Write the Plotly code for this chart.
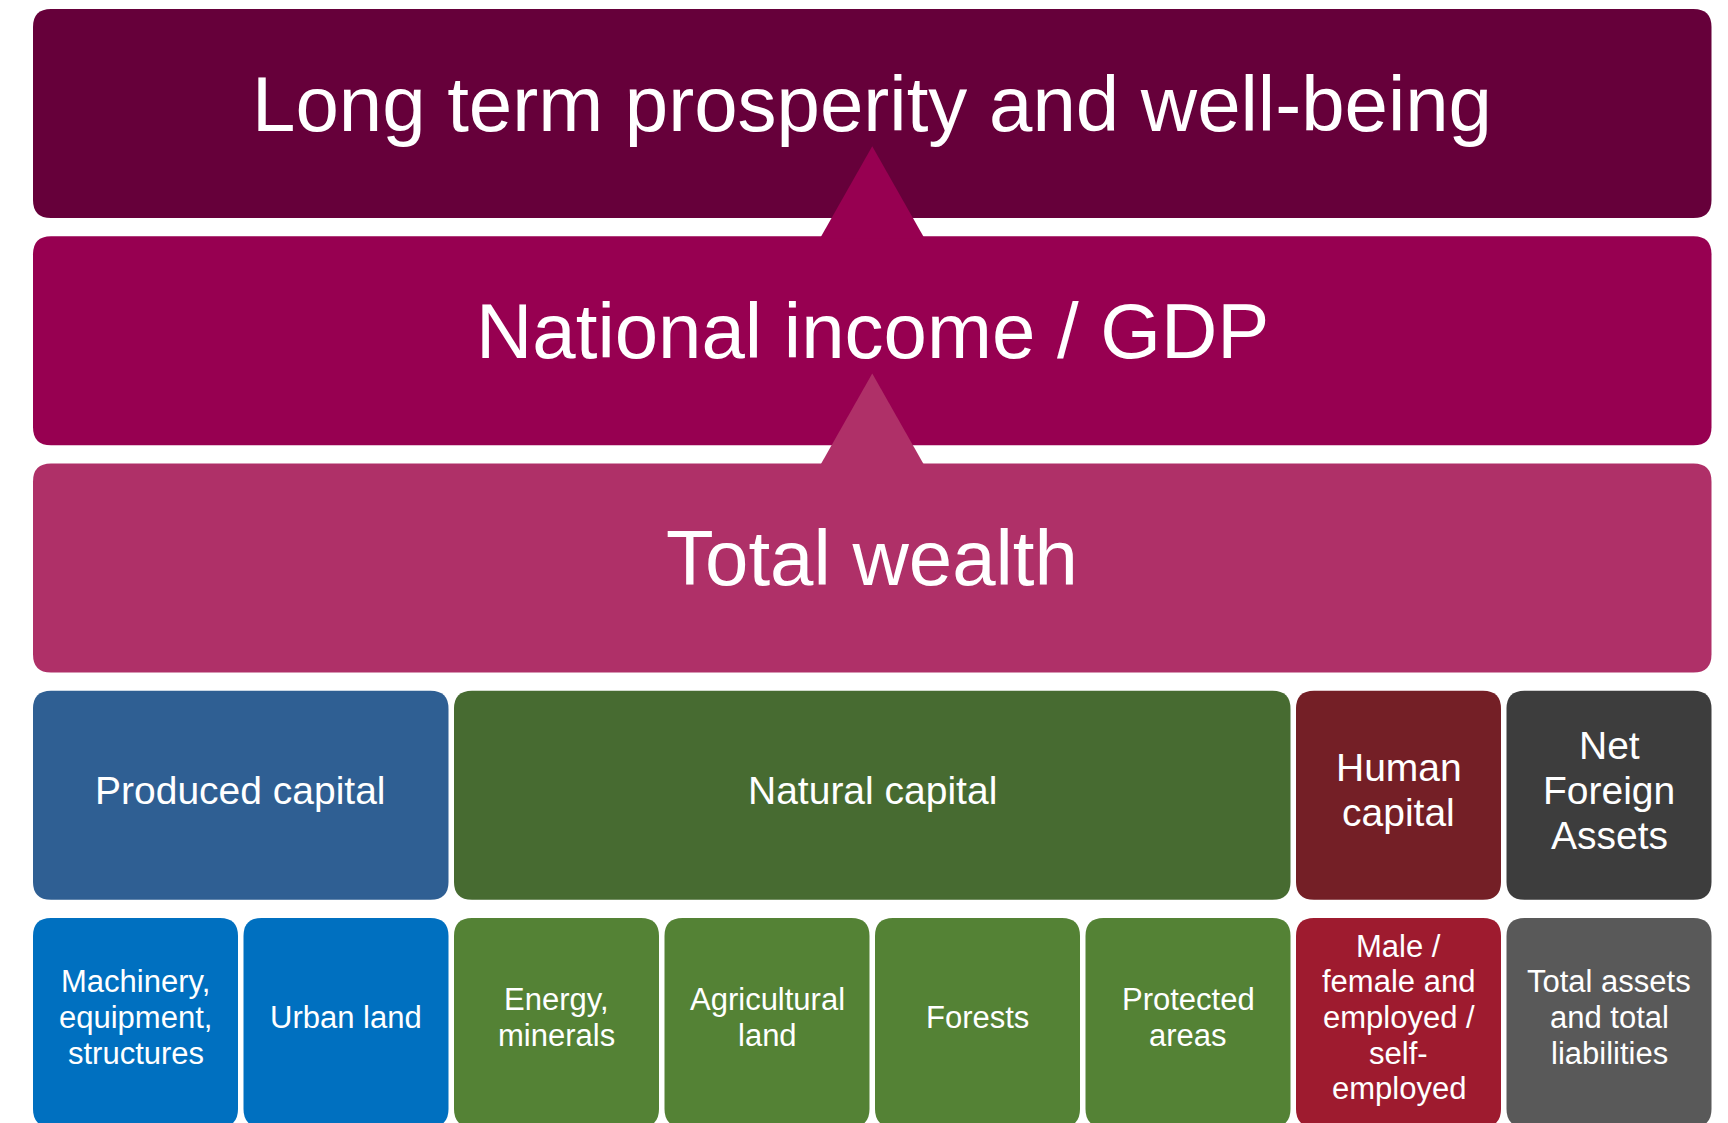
import plotly.graph_objects as go

# ---------------- data ----------------
level_labels = ["Long term prosperity and well-being", "National income / GDP", "Total wealth"]
level_colors = ["#66003A", "#970051", "#AF3068"]

capital_labels = ["Produced capital", "Natural capital", "Human\ncapital", "Net\nForeign\nAssets"]
capital_spans = [2, 4, 1, 1]
capital_colors = ["#2F5F93", "#476B31", "#741F26", "#3D3D3D"]

component_labels = [
    "Machinery,\nequipment,\nstructures",
    "Urban land",
    "Energy,\nminerals",
    "Agricultural\nland",
    "Forests",
    "Protected\nareas",
    "Male /\nfemale and\nemployed /\nself-\nemployed",
    "Total assets\nand total\nliabilities",
]
component_colors = ["#0070C0", "#0070C0", "#548235", "#548235", "#548235", "#548235", "#9E1B2F", "#595959"]

# ---------------- layout geometry ----------------
# the page body has an 8 px margin, so the figure is 8 px smaller and shifted
W, H = 1720, 1115
N_COLS = 8
X_PITCH, Y_PITCH = 210.5, 227.25      # px per grid unit
X_ORIGIN, Y_ORIGIN = 22.25, -8.1      # px (inside the figure) where grid unit 0 sits
HX = 2.75 / X_PITCH                   # half gap between columns (units)
HY = 9.125 / Y_PITCH                  # half gap between rows (units)
R_PX = 18
RX, RY = R_PX / X_PITCH, R_PX / Y_PITCH
FONT = "Liberation Sans, Arial, Helvetica, sans-serif"
LINE_FACTOR = 1.15


def rounded_rect(x0, x1, y0, y1):
    return (f"M {x0+RX},{y0} L {x1-RX},{y0} Q {x1},{y0} {x1},{y0+RY} "
            f"L {x1},{y1-RY} Q {x1},{y1} {x1-RX},{y1} L {x0+RX},{y1} "
            f"Q {x0},{y1} {x0},{y1-RY} L {x0},{y0+RY} Q {x0},{y0} {x0+RX},{y0} Z")


shapes = []
annotations = []


def add_text(label, xc, yc, size, yshift):
    lines = label.split("\n")
    n = len(lines)
    lp = size * LINE_FACTOR / Y_PITCH
    for i, ln in enumerate(lines):
        annotations.append(dict(
            x=xc, y=yc + (i - (n - 1) / 2) * lp, xref="x", yref="y",
            text=ln, showarrow=False, xanchor="center", yanchor="middle",
            borderpad=0,
            font=dict(family=FONT, size=size, color="white"), yshift=yshift,
        ))


def add_box(col, span, row, color, label, size, yshift):
    x0, x1 = col + HX, col + span - HX
    y0, y1 = row + HY, row + 1 - HY
    shapes.append(dict(type="path", path=rounded_rect(x0, x1, y0, y1), xref="x", yref="y",
                       fillcolor=color, line=dict(width=0), layer="above"))
    add_text(label, (x0 + x1) / 2, (y0 + y1) / 2, size, yshift)


# full-width levels
for r, (lab, col) in enumerate(zip(level_labels, level_colors)):
    add_box(0, N_COLS, r, col, lab, 78, 10)

# capitals
c = 0
for lab, span, col in zip(capital_labels, capital_spans, capital_colors):
    add_box(c, span, 3, col, lab, 39, 5)
    c += span

# components
for c, (lab, col) in enumerate(zip(component_labels, component_colors)):
    add_box(c, 1, 4, col, lab, 31, 5)

# upward triangles (colour of the lower level)
TH = 90 / Y_PITCH
HW = 51 / X_PITCH
EXT = 0.01
for r in (1, 2):
    base = r + HY + EXT
    hw = HW * (TH + EXT) / TH
    apex = r + HY - TH
    xc = N_COLS / 2
    shapes.append(dict(type="path", xref="x", yref="y",
                       path=f"M {xc-hw},{base} L {xc},{apex} L {xc+hw},{base} Z",
                       fillcolor=level_colors[r], line=dict(width=0), layer="above"))

fig = go.Figure()
fig.update_layout(
    width=W, height=H,
    margin=dict(l=0, r=0, t=0, b=0),
    paper_bgcolor="white", plot_bgcolor="white",
    xaxis=dict(range=[-X_ORIGIN / X_PITCH, (W - X_ORIGIN) / X_PITCH], visible=False, fixedrange=True),
    yaxis=dict(range=[(H - Y_ORIGIN) / Y_PITCH, -Y_ORIGIN / Y_PITCH], visible=False, fixedrange=True),
    shapes=shapes, annotations=annotations, showlegend=False, hovermode=False,
)
fig.write_html("out.html", config={"displayModeBar": False})
